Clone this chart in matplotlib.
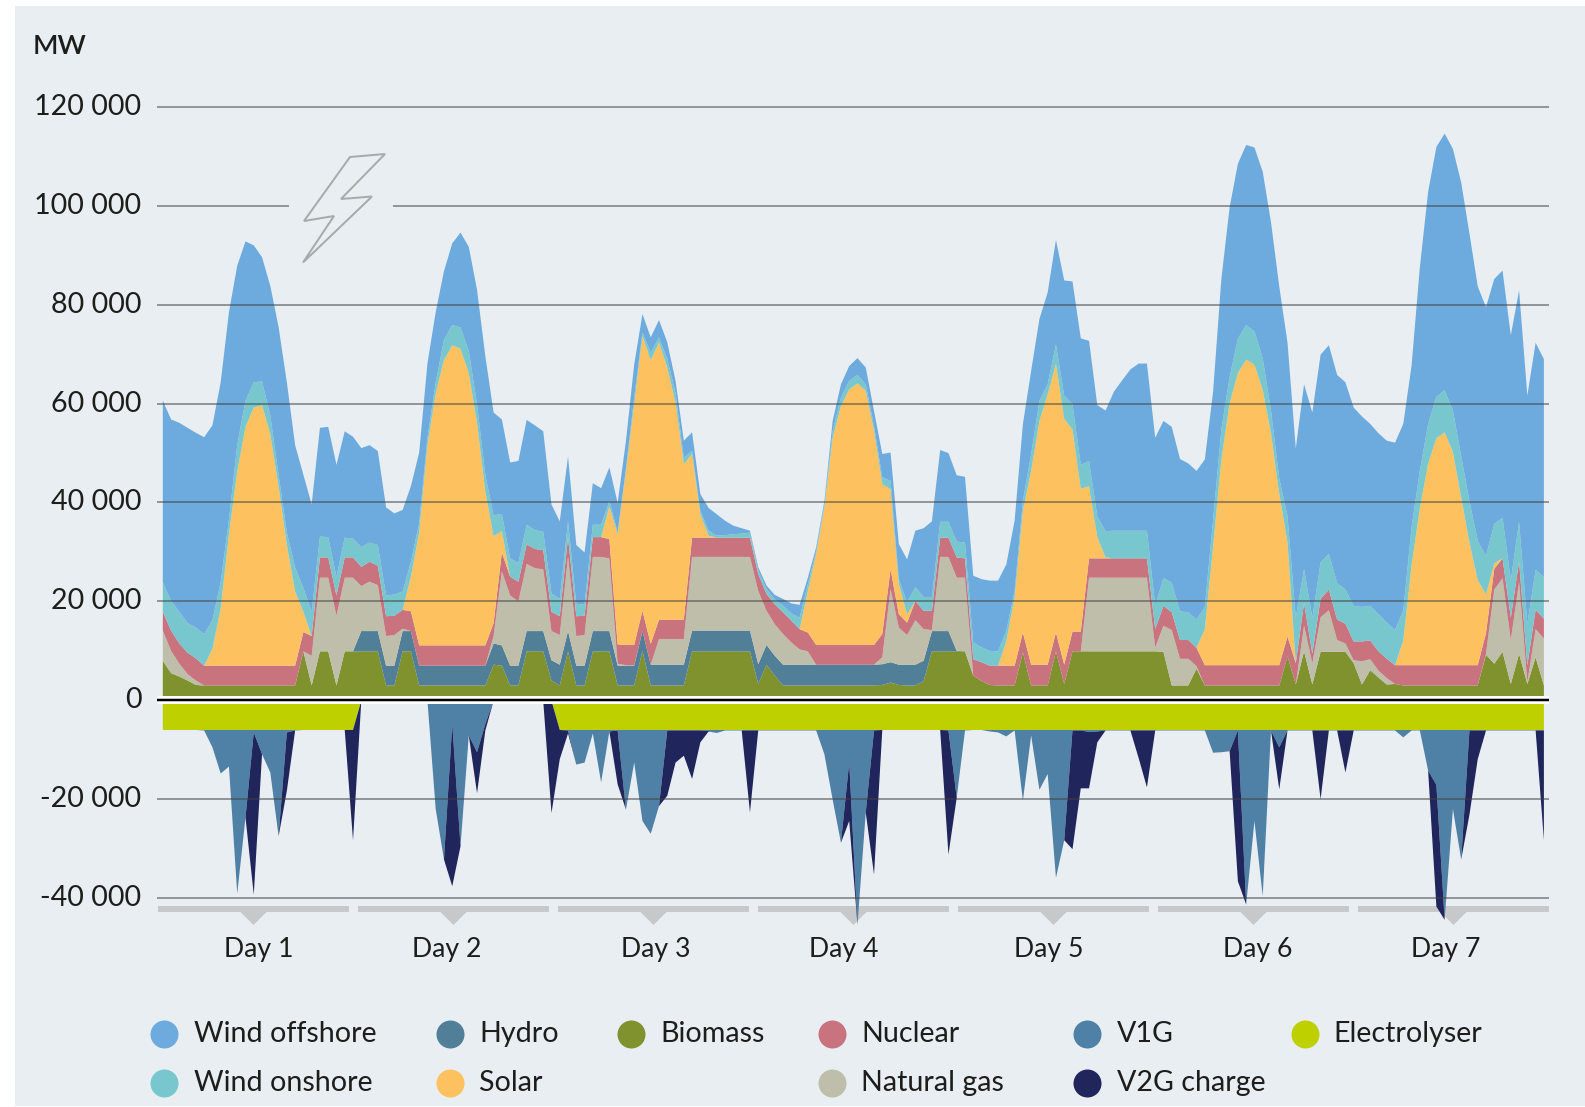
import numpy as np
import matplotlib
matplotlib.use('Agg')
import matplotlib.pyplot as plt
from matplotlib.transforms import ScaledTranslation

plt.rcParams['font.family'] = ['Lato', 'DejaVu Sans']

# all values in thousand MW, read hour by hour (168 h), cumulative tops of the stack
biomass_top = [8.1,5.6,4.9,4.1,3.2,3.1,3.1,3.1,3.1,3.1,3.1,3.1,
 3.1,3.1,3.1,3.1,3.1,10,3.1,10,10,3.1,10,10,
 10,10,10,3.1,3.1,10,10,3.1,3.1,3.1,3.1,3.1,
 3.1,3.1,3.1,3.1,7.3,7.1,3.1,3.1,10,10,10,4.1,
 3.1,10,3.1,3.1,10,10,10,3.1,3.1,3.1,10.1,3.1,
 3.1,3.1,3.1,3.1,10,10,10,10,10,10,10,10,
 3.4,7.3,5.1,3.1,3.1,3.1,3.1,3.1,3.1,3.1,3.1,3.1,
 3.1,3.1,3.1,3.2,3.7,3.2,3.1,3.1,4,10,10,10,
 10,10,5.1,4,3.2,3.1,3.1,3.1,9.8,3.1,3.1,3.1,
 10,3.4,10,10,10,10,10,10,10,10,10,10,
 10,9.9,3.1,3.1,3.1,6.5,3.1,3.1,3.1,3.1,3.1,3.1,
 3.1,3.1,3.1,3.1,9,3.3,10,3.3,9.9,9.9,9.9,9.9,
 7.6,3.3,6.2,4.7,3.3,3.4,3.1,3.1,3.1,3.1,3.1,3.1,
 3.1,3.1,3.1,3.1,9.3,7.5,9.9,3.4,9.5,3.4,8.8,3.1]
hydro_top = [8.1,5.6,4.9,4.1,3.2,3.1,3.1,3.1,3.1,3.1,3.1,3.1,
 3.1,3.1,3.1,3.1,3.1,10,3.1,10,10,3.1,10,10,
 14.1,14.1,14.1,7.1,7.1,14.1,14.1,7.1,7.1,7.1,7.1,7.1,
 7.1,7.1,7.1,7.1,11.6,11.2,7.1,7.1,14.1,14.1,14.1,8.2,
 7.3,14.1,7.1,7.1,14.1,14.1,14.1,7.1,7.1,7.1,14.1,7.3,
 7.3,7.3,7.3,7.3,14.2,14.2,14.2,14.2,14.2,14.2,14.2,14.2,
 7.4,11.3,9.1,7.3,7.3,7.3,7.3,7.3,7.3,7.3,7.3,7.3,
 7.3,7.3,7.3,7.4,7.8,7.3,7.3,7.3,8.1,14.1,14.1,14.1,
 10.1,10,5.1,4,3.2,3.1,3.1,3.1,9.8,3.1,3.1,3.1,
 10,3.4,10,10,10,10,10,10,10,10,10,10,
 10,9.9,3.1,3.1,3.1,6.5,3.1,3.1,3.1,3.1,3.1,3.1,
 3.1,3.1,3.1,3.1,9,3.3,10,3.3,9.9,9.9,9.9,9.9,
 7.6,3.3,6.2,4.7,3.3,3.4,3.1,3.1,3.1,3.1,3.1,3.1,
 3.1,3.1,3.1,3.1,9.3,7.5,9.9,3.4,9.5,3.4,8.8,3.1]
gas_top = [14.2,10.1,7.5,5.4,4.1,3.1,3.1,3.1,3.1,3.1,3.1,3.1,
 3.1,3.1,3.1,3.1,3.1,10,9.1,24.9,24.9,17.2,24.9,24.9,
 23.2,24.1,23.4,13.1,13.3,14.6,14.1,7.1,7.1,7.1,7.1,7.1,
 7.1,7.1,7.1,7.1,13.1,26.2,21.3,20.1,27.7,26.8,26.6,14.1,
 13.3,29.2,13.1,13.3,29.1,29.1,28.8,7.5,7.2,7.2,14.1,7.3,
 12.5,12.5,12.5,12.5,29.1,29.1,29.1,29.1,29.1,29.1,29.1,29.1,
 22.2,18.2,15.5,13.5,11.8,10.4,10,7.3,7.3,7.3,7.3,7.3,
 7.3,7.3,7.3,8.8,22.6,14.8,13.3,16.3,14.5,14.3,29.1,29.1,
 24.9,24.9,5.1,4,3.2,3.1,3.1,3.1,9.8,3.1,3.1,3.1,
 10,3.4,10,10,24.9,24.9,24.9,24.9,24.9,24.9,24.9,24.9,
 10.8,15.2,14.3,8.5,8.5,7,3.1,3.1,3.1,3.1,3.1,3.1,
 3.1,3.1,3.1,3.1,9,3.3,15.2,7.6,16.9,18.3,12.3,11.6,
 8.2,8,8.4,6.1,4.6,3.4,3.1,3.1,3.1,3.1,3.1,3.1,
 3.1,3.1,3.1,3.1,9.5,22.5,24.8,12.3,24,3.8,14.5,12.6]
nuclear_top = [18,14.2,11.6,9.7,8.6,7.1,7.1,7.1,7.1,7.1,7.1,7.1,
 7.1,7.1,7.1,7.1,7.1,13.9,13.1,29,29,21.3,29,29,
 27.1,28.1,27.3,17.1,17.2,18.4,18.1,11.2,11.2,11.2,11.2,11.2,
 11.2,11.2,11.2,11.2,15.7,30,25.1,24.1,31.6,30.7,30.5,18,
 17.1,33,17.1,17.2,33.1,33.1,32.7,11.4,11.3,11.3,18.2,11.5,
 16.4,16.4,16.4,16.4,33,33,33,33,33,33,33,33,
 25.6,21.6,19.5,17.9,16.2,14.5,13.8,11.3,11.3,11.3,11.3,11.3,
 11.3,11.3,11.3,13.5,26.6,17.5,15.8,20.2,18.2,18.2,33,33,
 29,28.8,8.4,7.8,7.1,7.1,7.1,7.1,13.8,7.3,7.3,7.3,
 13.8,7.3,14,14,28.8,28.8,28.8,28.8,28.8,28.8,28.8,28.8,
 14.5,19.2,17.9,12.3,12.3,10.7,7.2,7.2,7.2,7.2,7.2,7.2,
 7.2,7.2,7.2,7.2,13,7.6,19.8,9.5,20.6,22.5,16.4,15.6,
 12,12,12.2,10,8.5,7.2,7.2,7.2,7.2,7.2,7.2,7.2,
 7.2,7.2,7.2,7.2,13.7,26.7,28.8,16.8,28.2,7.2,18.4,16.6]
solar_top = [18,14.2,11.6,9.7,8.6,7.1,10.5,18.7,33.7,46.4,55.4,59.3,
 59.8,53.9,43.4,31.5,22.1,18,13.1,29,29,21.3,29,29,
 27.1,28.1,27.3,17.1,17.2,18.4,25.1,34.1,51.7,62.2,68.9,71.9,
 71.2,66.3,56.2,42.3,33.3,34.3,25.1,24.1,31.6,30.7,30.5,18,
 17.1,33,17.1,17.2,33.1,33.1,39.3,33.7,46.4,60,73.8,68.9,
 72.5,67.4,60.3,47.9,49.9,37.7,33.4,33,33,33,33,33,
 25.6,21.6,19.5,17.9,16.2,14.5,22.2,29.7,39.1,53.2,59.6,63,
 64.2,62.7,54.6,43.8,42.8,23.6,17.5,20.2,18.2,18.2,33,33,
 29,28.8,8.4,7.8,7.1,7.1,12.1,20.9,38.4,46.5,56.6,62,
 68.1,57,54.9,42.9,43.4,33.1,29,28.8,28.8,28.8,28.8,28.8,
 14.5,19.2,17.9,12.3,12.3,10.7,14.5,31.2,48.8,60.2,66.3,69,
 68,62.9,54.1,41.9,32,7.6,19.8,9.5,20.6,22.5,16.4,15.6,
 12,12,12.2,10,8.5,7.2,12.2,27.4,38.9,48,53.1,54.3,
 50.3,41.1,32,24.4,21.5,27.8,28.8,16.8,28.2,7.2,18.4,16.6]
onshore_top = [24,20.2,18,15.7,14.8,13.5,16.3,24,36.7,51.7,60.7,64.4,
 64.6,57.7,45.7,34,27,22.8,18,33.2,33.1,25.1,33,32.8,
 31.1,32,31.5,21.3,21.5,22.1,28.1,36,53.2,64.4,73,76,
 75.5,70.8,59.9,45.7,37.5,37.8,28.8,27.9,35.6,34.5,34.2,21.7,
 20.6,36.3,19.6,19.5,35.6,35.6,40.4,34.1,47,61.3,74.5,70.4,
 73.5,69.1,62.3,49.1,50.6,38.4,34.4,33.4,33.5,33.7,33.8,34,
 26.3,22.6,20.5,19.2,17.7,16.8,23.6,30.3,39.8,54.6,61.3,64.7,
 65.9,64,55.6,45.2,44.5,24.6,19.9,23,21,21,36.2,36.2,
 32.2,32,11.8,10.8,10.1,10,14.2,22.2,40.4,49.9,60.7,64,
 72.1,61.7,60,47.7,48.5,37.3,34.3,34.4,34.4,34.4,34.4,34.4,
 19.4,24.8,23.9,18.1,17.9,16.4,19,36.6,54.9,65.5,73.2,76,
 74.7,69.3,58.7,45,37.3,16.8,26.7,16.8,28,29.7,23.8,22.5,
 19.2,19,19.2,17.5,15.8,14.3,18.3,35.1,46.5,56,61.5,62.8,
 58.7,49.5,40.4,32.4,29.3,35.8,37,24.4,36.2,15.6,26.5,25]
offshore_top = [60.7,56.9,56.2,55.2,54.2,53.3,55.7,64.4,78.6,88,92.9,92.1,
 89.7,83.9,75.6,64.4,51.7,45.7,39.7,55.2,55.4,47.7,54.5,53.4,
 51.1,51.7,50.5,39.1,37.9,38.6,43.4,50.2,68.2,78.6,86.9,92.5,
 94.7,91.8,83.1,69.7,58.3,56.9,48.2,48.5,56.8,55.7,54.5,39.7,
 36.3,49.4,31.5,30,44,43,47.2,40,52.5,68,78.2,73.5,
 77,72.5,64.7,52.6,54.3,41.8,39,37.7,36.4,35.4,34.9,34.4,
 27,23.3,21.4,20.6,19.7,19.4,24.9,31,40.4,56.6,64,67.7,
 69.3,67.4,58.6,49.9,50.2,31.7,28.6,34.4,34.9,36.3,50.7,50.1,
 45.6,45.3,25.3,24.6,24.3,24.3,27.6,36.4,55.9,66.7,77.2,82.6,
 93.2,85,84.8,73.3,72.8,59.8,58.7,62.5,64.8,67,68.2,68.2,
 53.2,56.6,55.4,48.9,48,46.5,48.8,62.5,85.3,99.8,108.6,112.4,
 111.9,107,96.8,83.8,72.4,51,64,58.3,70,71.9,65.9,64.4,
 59.3,57.5,56,54.1,52.6,52.2,56,67.8,87.6,102.9,112,114.7,
 111.6,104.8,94.5,83.8,79.6,85.3,87,73.9,83,61.7,72.4,69.1]

# below zero: electrolyser, then V1G, then V2G (cumulative bottoms)
electrolyser_low = [-5.9]*24 + [0]*24 + [-5.9]*120
v1g_low = [-5.9,-5.9,-5.9,-5.9,-5.9,-6,-9.4,-14.7,-13.3,-39,-23.6,-6.4,
 -10.8,-14.5,-27.4,-6.4,-6,-5.9,-5.9,-5.9,-5.9,-5.9,-5.9,-5.9,
 0,0,0,0,0,0,0,0,0,-21.9,-32.1,-4.7,
 -29.4,-7,-10.4,-4.7,0,0,0,0,0,0,0,0,
 -5.9,-6,-12.9,-12.5,-6.6,-16.5,-6.2,-6,-22,-12.5,-24.3,-26.9,
 -21.3,-6,-6,-6,-6,-6,-6.1,-6.5,-6,-6,-6,-6,
 -6,-6,-6,-6,-6,-6,-6,-6,-10.8,-20,-28.7,-12.5,
 -45.3,-22.6,-6,-5.9,-5.9,-5.9,-5.9,-5.9,-5.9,-5.9,-5.9,-6,
 -19.6,-6,-5.9,-5.9,-6.2,-6.4,-7.2,-6,-20.2,-7,-18,-14.8,
 -35.8,-28.2,-6,-6,-6.3,-6.2,-6,-6,-6,-6,-6,-6,
 -6,-6,-6,-6,-6,-6,-6,-10.5,-10.4,-10.2,-6,-41.2,
 -24.3,-39.5,-6,-9.4,-6,-6,-6,-6,-6,-6,-6,-6,
 -6,-6,-6,-6,-6,-6,-7.4,-6,-6,-14.1,-17,-44.3,
 -21.9,-32.1,-6,-6,-6,-6,-6,-6,-6,-6,-6,-6]
v2g_low = [-5.9,-5.9,-5.9,-5.9,-5.9,-6,-9.4,-14.7,-13.3,-39,-23.6,-39.2,
 -10.8,-14.5,-27.4,-18.2,-6,-5.9,-5.9,-5.9,-5.9,-5.9,-5.9,-28.2,
 0,0,0,0,0,0,0,0,0,-21.9,-32.1,-37.5,
 -29.4,-7,-18.7,-6,0,0,0,0,0,0,0,-22.7,
 -11.8,-6.6,-12.9,-12.5,-6.6,-16.5,-6.2,-16.9,-22,-12.5,-24.3,-26.9,
 -21.3,-19.2,-12.5,-11.1,-15.8,-8.4,-6.2,-6.5,-6,-6,-6,-22.6,
 -6,-6,-6,-6,-6,-6,-6,-6,-10.8,-20,-28.7,-24.3,
 -45.3,-22.6,-35.1,-5.9,-5.9,-5.9,-5.9,-5.9,-5.9,-5.9,-5.9,-31.1,
 -19.6,-6,-5.9,-5.9,-6.2,-6.4,-7.2,-6,-20.2,-7,-18,-14.8,
 -35.8,-28.2,-30,-17.7,-17.7,-8.4,-6,-6,-6,-6,-11.6,-17.5,
 -6,-6,-6,-6,-6,-6,-6,-10.5,-10.4,-10.2,-36.5,-41.2,
 -24.3,-39.5,-6,-17.9,-6,-6,-6,-6,-19.9,-6,-6,-14.5,
 -6,-6,-6,-6,-6,-6,-7.4,-6,-6,-14.1,-41.6,-44.3,
 -21.9,-32.1,-23,-11.8,-6,-6,-6,-6,-6,-6,-6,-28.2]

y_ticks = [-40,-20,0,20,40,60,80,100,120]
y_labels = ['-40 000','-20 000','0','20 000','40 000','60 000','80 000','100 000','120 000']
days = ['Day 1','Day 2','Day 3','Day 4','Day 5','Day 6','Day 7']
legend_names = ['Wind offshore','Wind onshore','Hydro','Solar','Biomass','Nuclear','Natural gas','V1G','V2G charge','Electrolyser']

colors = {'Wind offshore':'#6daadd','Wind onshore':'#78c7cf','Hydro':'#517f97','Solar':'#fdc25f',
          'Biomass':'#7f922d','Nuclear':'#c9737f','Natural gas':'#bfbeab','V1G':'#4f81a6',
          'V2G charge':'#20255c','Electrolyser':'#bed000'}
text_col = '#1d1d1b'
px = 0.72  # one pixel in points at dpi 100

W, H = 1585, 1107
fig = plt.figure(figsize=(W/100, H/100), dpi=100, facecolor='white')

# pixel canvas for the panel, lightning bolt, day brackets, legend
bg = fig.add_axes([0,0,1,1], zorder=0)
bg.set_xlim(0,W)
bg.set_ylim(H,0)
bg.axis('off')
bg.add_patch(plt.Rectangle((15,6),W-15,1100,fc='#e8eef1',ec='none'))

# day brackets
for k,d in enumerate(days):
    x0 = 158+200*k
    bg.add_patch(plt.Rectangle((x0,906),191,6,fc='#c6c8ca',ec='none'))
    bg.add_patch(plt.Polygon([(x0+82.5,912),(x0+108.5,912),(x0+95.5,925)],fc='#c6c8ca',ec='none'))
day_x = [259,447,656,844,1049,1258,1446]
for d,x in zip(days,day_x):
    bg.text(x,949,d,ha='center',va='center',fontsize=19.2,color=text_col)

bg.text(33,47,'MW',ha='left',va='center',fontsize=19.5,color=text_col,fontweight='semibold')

# legend
leg_dot_x = [164,164,450,450,631,832,832,1087,1087,1305]
leg_txt_x = [194,194,479,479,660,861,861,1117,1117,1333]
leg_y = [1034,1083,1034,1083,1034,1034,1083,1034,1083,1034]
for n,dx,tx,ly in zip(legend_names,leg_dot_x,leg_txt_x,leg_y):
    bg.scatter([dx],[ly],s=(28*px)**2,color=colors[n],lw=0)
    bg.text(tx,ly,n,ha='left',va='center',fontsize=20.6,color=text_col)

# lightning bolt
bolt = [(350,157),(385,154),(341,199),(372,196.5),(303,262.5),(334,216),(304,221)]
bg.add_patch(plt.Polygon(bolt,closed=True,fc='none',ec='#a8abab',lw=2*px))

# chart
ax = fig.add_axes([157/W,1-930/H,(1549-157)/W,840/H],zorder=1)
ax.patch.set_alpha(0)
hours = np.arange(168)
ax.set_xlim((157-162.3)/8.27,(1549-162.3)/8.27)
ax.set_ylim((700.3-930)/4.945,(700.3-90)/4.945)
for s in ax.spines.values():
    s.set_visible(False)
ax.set_xticks([])
ax.set_yticks(y_ticks)
ax.set_yticklabels(y_labels,fontsize=20.6,color=text_col)
ax.tick_params(axis='y',length=0,pad=15.5*px)
for lab in ax.get_yticklabels():
    lab.set_transform(lab.get_transform()+ScaledTranslation(0,2.5/100,fig.dpi_scale_trans))

stack = [('Biomass',np.zeros(168),biomass_top),('Hydro',biomass_top,hydro_top),('Natural gas',hydro_top,gas_top),
         ('Nuclear',gas_top,nuclear_top),('Solar',nuclear_top,solar_top),('Wind onshore',solar_top,onshore_top),
         ('Wind offshore',onshore_top,offshore_top),('Electrolyser',np.zeros(168),electrolyser_low),
         ('V1G',electrolyser_low,v1g_low),('V2G charge',v1g_low,v2g_low)]
for n,lo,hi in stack:
    ax.fill_between(hours,lo,hi,color=colors[n],lw=0,zorder=2)

# gridlines sit on top of the areas and darken them
grid_col = (0.25,0.25,0.25,0.5)
for t in y_ticks:
    if t==0:
        continue
    if t==100:
        ax.plot([(157-162.3)/8.27,(289-162.3)/8.27],[t,t],color=grid_col,lw=2*px,zorder=3,solid_capstyle='butt')
        ax.plot([(393-162.3)/8.27,(1549-162.3)/8.27],[t,t],color=grid_col,lw=2*px,zorder=3,solid_capstyle='butt')
    else:
        ax.axhline(t,color=grid_col,lw=2*px,zorder=3)
ax.axhline(0,color='white',lw=8*px,zorder=4)
ax.axhline(0,color='black',lw=2.5*px,zorder=5)

fig.savefig('out.png',dpi=100,facecolor='white')
